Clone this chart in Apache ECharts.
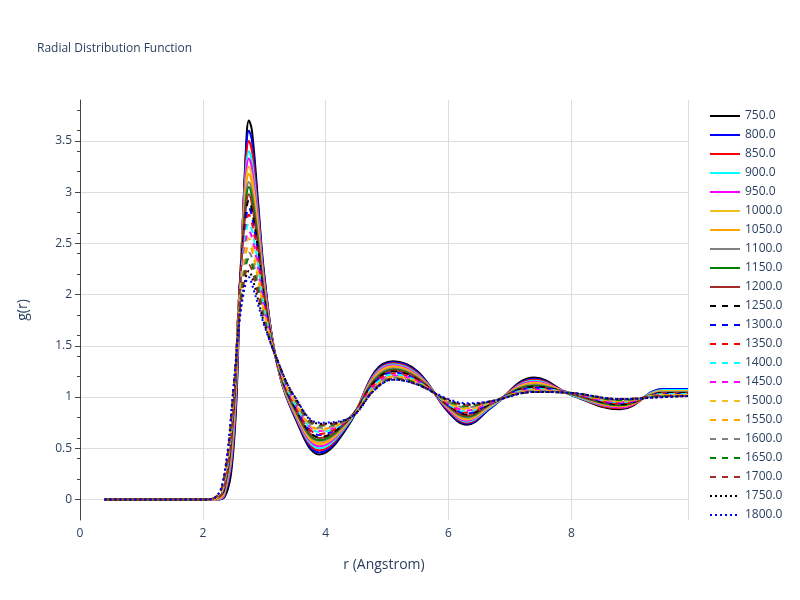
<!DOCTYPE html>
<html><head><meta charset="utf-8">
<script src="https://cdn.jsdelivr.net/npm/echarts@6/dist/echarts.min.js"></script>
<style>html,body{margin:0;background:#fff}#c{width:800px;height:600px}</style>
</head><body><div id="c"></div>
<script>
// r grid (Angstrom)
var rValues = [0.4,2.0,2.2,2.35,2.5,2.6,2.7,2.75,2.8,2.9,3.0,3.2,3.5,3.9,4.4,4.8,5.1,5.5,6.0,6.3,6.7,7.4,8.0,8.8,9.5,9.9];
var temps = ['750.0','800.0','850.0','900.0','950.0','1000.0','1050.0','1100.0','1150.0','1200.0','1250.0','1300.0','1350.0','1400.0','1450.0','1500.0','1550.0','1600.0','1650.0','1700.0','1750.0','1800.0'];
var g750 = [0,0,0,0.02,0.5,1.9,3.4,3.7,3.6,2.9,2.2,1.35,0.8,0.44,0.75,1.25,1.35,1.25,0.85,0.73,0.9,1.19,1.02,0.88,1.08,1.08];
var g800 = [0,0,0,0.03,0.55,1.95,3.35,3.6,3.5,2.85,2.18,1.35,0.81,0.46,0.76,1.24,1.34,1.24,0.86,0.74,0.9,1.18,1.02,0.89,1.08,1.08];
var g850 = [0,0,0,0.04,0.6,2.0,3.28,3.5,3.4,2.8,2.15,1.35,0.82,0.48,0.77,1.23,1.33,1.23,0.87,0.75,0.91,1.17,1.02,0.89,1.07,1.07];
var g900 = [0,0,0,0.05,0.65,2.03,3.2,3.4,3.3,2.75,2.12,1.35,0.83,0.5,0.77,1.22,1.32,1.22,0.88,0.76,0.91,1.16,1.02,0.9,1.07,1.07];
var g950 = [0,0,0,0.06,0.7,2.05,3.15,3.33,3.23,2.7,2.1,1.35,0.84,0.52,0.78,1.21,1.31,1.21,0.88,0.77,0.92,1.15,1.03,0.9,1.06,1.06];
var g1000 = [0,0,0,0.07,0.74,2.06,3.08,3.25,3.15,2.65,2.07,1.35,0.85,0.54,0.78,1.2,1.3,1.2,0.89,0.78,0.92,1.14,1.03,0.91,1.06,1.06];
var g1050 = [0,0,0.01,0.08,0.78,2.07,3.02,3.18,3.08,2.6,2.05,1.35,0.86,0.55,0.79,1.19,1.29,1.2,0.9,0.79,0.93,1.13,1.03,0.91,1.05,1.05];
var g1100 = [0,0,0.01,0.09,0.82,2.08,2.95,3.1,3.0,2.55,2.02,1.35,0.87,0.57,0.79,1.18,1.28,1.19,0.9,0.8,0.93,1.12,1.03,0.92,1.05,1.05];
var g1150 = [0,0,0.01,0.1,0.85,2.08,2.9,3.05,2.95,2.52,2.0,1.35,0.88,0.58,0.8,1.17,1.27,1.18,0.91,0.81,0.94,1.11,1.03,0.92,1.04,1.04];
var g1200 = [0,0,0.01,0.11,0.88,2.08,2.84,2.98,2.88,2.48,1.98,1.36,0.89,0.6,0.8,1.16,1.26,1.18,0.91,0.82,0.94,1.1,1.03,0.93,1.04,1.04];
var g1250 = [0,0,0.01,0.12,0.9,2.08,2.79,2.92,2.82,2.44,1.96,1.36,0.9,0.61,0.8,1.15,1.25,1.17,0.92,0.83,0.94,1.1,1.04,0.93,1.04,1.04];
var g1300 = [0,0,0.01,0.13,0.92,2.07,2.73,2.85,2.76,2.4,1.94,1.36,0.91,0.63,0.8,1.14,1.24,1.16,0.92,0.84,0.95,1.09,1.04,0.94,1.03,1.03];
var g1350 = [0,0,0.01,0.14,0.94,2.06,2.67,2.78,2.7,2.35,1.91,1.36,0.92,0.64,0.8,1.13,1.23,1.16,0.93,0.85,0.95,1.08,1.04,0.94,1.03,1.03];
var g1400 = [0,0,0.01,0.15,0.96,2.03,2.6,2.7,2.63,2.3,1.88,1.37,0.93,0.66,0.8,1.12,1.22,1.15,0.93,0.86,0.95,1.08,1.04,0.95,1.03,1.03];
var g1450 = [0,0,0.01,0.17,0.98,2.0,2.52,2.62,2.56,2.25,1.86,1.37,0.94,0.67,0.8,1.11,1.21,1.15,0.94,0.87,0.95,1.07,1.04,0.95,1.02,1.02];
var g1500 = [0,0,0.01,0.18,1.0,1.97,2.46,2.55,2.49,2.2,1.83,1.37,0.95,0.68,0.8,1.1,1.2,1.14,0.94,0.88,0.95,1.07,1.04,0.96,1.02,1.02];
var g1550 = [0,0,0.01,0.19,1.02,1.93,2.4,2.48,2.43,2.15,1.81,1.37,0.96,0.69,0.8,1.1,1.2,1.14,0.95,0.89,0.96,1.06,1.04,0.96,1.02,1.02];
var g1600 = [0,0,0.02,0.2,1.04,1.89,2.33,2.41,2.36,2.1,1.79,1.38,0.97,0.7,0.8,1.09,1.19,1.13,0.95,0.9,0.96,1.06,1.04,0.97,1.01,1.01];
var g1650 = [0,0,0.02,0.21,1.05,1.86,2.28,2.35,2.3,2.05,1.76,1.38,0.98,0.72,0.8,1.08,1.18,1.13,0.96,0.91,0.96,1.05,1.04,0.97,1.01,1.01];
var g1700 = [0,0,0.02,0.22,1.07,1.82,2.22,2.29,2.24,2.0,1.74,1.38,0.99,0.73,0.8,1.08,1.18,1.12,0.97,0.92,0.96,1.05,1.04,0.98,1.01,1.01];
var g1750 = [0,0,0.02,0.24,1.09,1.78,2.17,2.23,2.17,1.95,1.72,1.38,1.0,0.74,0.8,1.07,1.17,1.12,0.97,0.93,0.96,1.05,1.04,0.98,1.0,1.01];
var g1800 = [0,0,0.02,0.25,1.1,1.75,2.12,2.17,2.1,1.9,1.7,1.38,1.0,0.75,0.8,1.07,1.17,1.12,0.98,0.94,0.96,1.05,1.04,0.98,1.0,1.01];
var yTicks = [0,0.5,1,1.5,2,2.5,3,3.5];

var allG = [g750,g800,g850,g900,g950,g1000,g1050,g1100,g1150,g1200,g1250,g1300,g1350,g1400,g1450,g1500,g1550,g1600,g1650,g1700,g1750,g1800];
var colors = ['#000000','#0000ff','#ff0000','#00ffff','#ff00ff','#f0c020','#ffa500','#808080','#008000','#a52a2a'];

var chart = echarts.init(document.getElementById('c'));
var series = allG.map(function(g, i) {
	var type = i < 10 ? 'solid' : (i < 20 ? [6, 6] : [2, 3]);
	return {
		name: temps[i],
		type: 'line',
		smooth: 0.4,
		symbol: 'none',
		lineStyle: { color: colors[i % 10], width: 2, type: type },
		itemStyle: { color: colors[i % 10] },
		data: rValues.map(function(r, k) { return [r, g[k]]; })
	};
});

chart.setOption({
	animation: false,
	title: {
		text: 'Radial Distribution Function', left: 32, top: 38,
		textStyle: { fontSize: 12, fontWeight: 'normal', color: '#2a3f5f', fontFamily: 'Open Sans' }
	},
	legend: {
		orient: 'vertical', left: 704, top: 105, itemGap: 7,
		itemWidth: 30, itemHeight: 12,
		itemStyle: { opacity: 0 },
		textStyle: { fontSize: 12, color: '#2a3f5f', fontFamily: 'Open Sans' },
		data: temps
	},
	grid: { left: 80, right: 112, top: 100, bottom: 80, containLabel: false },
	xAxis: {
		type: 'value', min: 0, max: 9.9, interval: 2,
		name: 'r (Angstrom)', nameLocation: 'middle', nameGap: 38,
		nameTextStyle: { fontSize: 14, color: '#2a3f5f', fontFamily: 'Open Sans' },
		axisLine: { show: false },
		axisTick: { show: false },
		axisLabel: { color: '#2a3f5f', fontSize: 12, fontFamily: 'Open Sans', showMaxLabel: false },
		splitLine: { lineStyle: { color: '#dddddd' } }
	},
	yAxis: {
		type: 'value', min: -0.2, max: 3.9,
		name: 'g(r)', nameLocation: 'middle', nameGap: 50,
		nameTextStyle: { fontSize: 14, color: '#2a3f5f', fontFamily: 'Open Sans' },
		axisLine: { show: true, onZero: false, lineStyle: { color: '#444' } },
		axisTick: { show: true, length: 5, customValues: yTicks, lineStyle: { color: '#444' } },
		minorTick: { show: true, splitNumber: 5, length: 3 },
		axisLabel: { color: '#2a3f5f', fontSize: 12, fontFamily: 'Open Sans', customValues: yTicks },
		splitLine: { lineStyle: { color: '#dddddd' } }
	},
	series: series
});
</script>
</body></html>
